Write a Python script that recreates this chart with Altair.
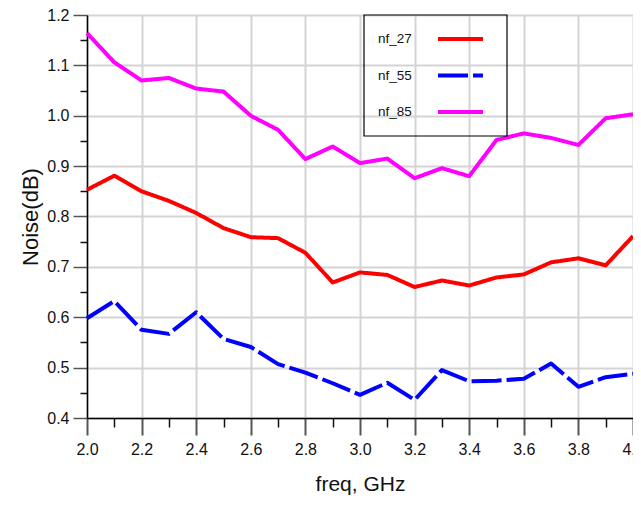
import altair as alt
import pandas as pd

# ---- data ----
freq = [2.0, 2.1, 2.2, 2.3, 2.4, 2.5, 2.6, 2.7, 2.8, 2.9, 3.0,
        3.1, 3.2, 3.3, 3.4, 3.5, 3.6, 3.7, 3.8, 3.9, 4.0]
nf_27 = [0.853, 0.881, 0.850, 0.831, 0.807, 0.777, 0.759, 0.757, 0.728, 0.669, 0.689,
         0.684, 0.660, 0.673, 0.663, 0.679, 0.685, 0.709, 0.717, 0.703, 0.761]
nf_55 = [0.598, 0.632, 0.575, 0.567, 0.610, 0.557, 0.541, 0.507, 0.490, 0.469, 0.446,
         0.470, 0.436, 0.495, 0.473, 0.474, 0.478, 0.508, 0.462, 0.481, 0.488]
nf_85 = [1.164, 1.106, 1.070, 1.075, 1.054, 1.048, 1.000, 0.972, 0.914, 0.939, 0.906,
         0.915, 0.876, 0.896, 0.880, 0.952, 0.965, 0.956, 0.942, 0.995, 1.003]
series = ["nf_27", "nf_55", "nf_85"]
colors = ["#ff0000", "#0000ff", "#ff00ff"]
dashes = [[1, 0], [30, 5], [1, 0]]
x_ticks = [round(2.0 + 0.1 * i, 2) for i in range(21)]
y_ticks = [round(0.4 + 0.05 * i, 3) for i in range(17)]

df = pd.DataFrame({"freq": freq, "nf_27": nf_27, "nf_55": nf_55, "nf_85": nf_85})
long_df = df.melt(id_vars="freq", var_name="series", value_name="noise")
legend_df = pd.DataFrame({"series": series, "row": list(range(len(series)))})

FONT = "Liberation Sans"
W, H = 546, 403

color_scale = alt.Scale(domain=series, range=colors)
dash_scale = alt.Scale(domain=series, range=dashes)

x_major = "abs(datum.value*5 - round(datum.value*5)) < 0.001"
y_major = "abs(datum.value*10 - round(datum.value*10)) < 0.001"

x_axis = alt.Axis(
    values=x_ticks, labelExpr=f"{x_major} ? format(datum.value, '.1f') : ''",
    labelOverlap=False, labelFlush=False, labelFontSize=16, labelColor="#111",
    labelPadding=6, labelFont=FONT,
    tickSize={"condition": {"test": x_major, "value": 17}, "value": 9},
    tickColor={"condition": {"test": x_major, "value": "#555"}, "value": "#111"},
    tickWidth={"condition": {"test": x_major, "value": 2}, "value": 1.5},
    grid=True, gridColor="#d4d4d4", gridWidth=2,
    gridOpacity={"condition": {"test": x_major, "value": 1}, "value": 0},
    domainColor="#000", domainWidth=1.5,
    title="freq, GHz", titleFontSize=21, titleFontWeight="normal", titleFont=FONT,
    titleColor="#111", titleX=W / 2, titleY=66, titleBaseline="middle", titleAlign="center",
)
y_axis = alt.Axis(
    values=y_ticks, labelExpr=f"{y_major} ? format(datum.value, '.1f') : ''",
    labelOverlap=False, labelFlush=False, labelFontSize=16, labelColor="#111",
    labelPadding=4, labelFont=FONT,
    tickSize={"condition": {"test": y_major, "value": 14}, "value": 7},
    tickColor={"condition": {"test": y_major, "value": "#555"}, "value": "#111"},
    tickWidth=1.5,
    grid=True, gridColor="#d4d4d4", gridWidth=2,
    gridOpacity={"condition": {"test": y_major, "value": 1}, "value": 0},
    domainColor="#000", domainWidth=1.5,
    title="Noise(dB)", titleFontSize=22, titleFontWeight="normal", titleFont=FONT,
    titleColor="#111", titleX=-57, titleY=H / 2, titleBaseline="middle", titleAlign="center",
    titleAngle=270,
)

lines = alt.Chart(long_df).mark_line(strokeWidth=4, strokeJoin="round").encode(
    x=alt.X("freq:Q", scale=alt.Scale(domain=[2.0, 4.0], nice=False, zero=False), axis=x_axis),
    y=alt.Y("noise:Q", scale=alt.Scale(domain=[0.4, 1.2], nice=False, zero=False), axis=y_axis),
    color=alt.Color("series:N", scale=color_scale, legend=None),
    strokeDash=alt.StrokeDash("series:N", scale=dash_scale, legend=None),
    detail="series:N",
)

leg_base = alt.Chart(legend_df).transform_calculate(ly="24 + datum.row * 36.5")
leg_text = leg_base.mark_text(align="left", baseline="middle", fontSize=13.5, font=FONT,
                              color="#111").encode(
    x=alt.value(291),
    y=alt.Y("ly:Q", scale=None, axis=None),
    text="series:N",
)
leg_rule = leg_base.mark_rule(strokeWidth=4).encode(
    x=alt.value(351), x2=alt.value(396),
    y=alt.Y("ly:Q", scale=None, axis=None),
    color=alt.Color("series:N", scale=color_scale, legend=None),
    strokeDash=alt.StrokeDash("series:N", scale=dash_scale, legend=None),
)
leg_box = alt.Chart(pd.DataFrame({"a": [0]})).mark_rect(
    fillOpacity=0, stroke="#000", strokeWidth=1.2).encode(
    x=alt.value(277), x2=alt.value(420), y=alt.value(0), y2=alt.value(121),
)

chart = alt.layer(lines, leg_box, leg_rule, leg_text).properties(
    width=W, height=H,
    autosize=alt.AutoSizeParams(type="none"),
    padding={"left": 79, "top": 7, "right": 0, "bottom": 78},
).configure_view(stroke="#000", strokeWidth=1.5).configure(background="white")

chart.save("out.html", embed_options={"renderer": "svg", "actions": False})
